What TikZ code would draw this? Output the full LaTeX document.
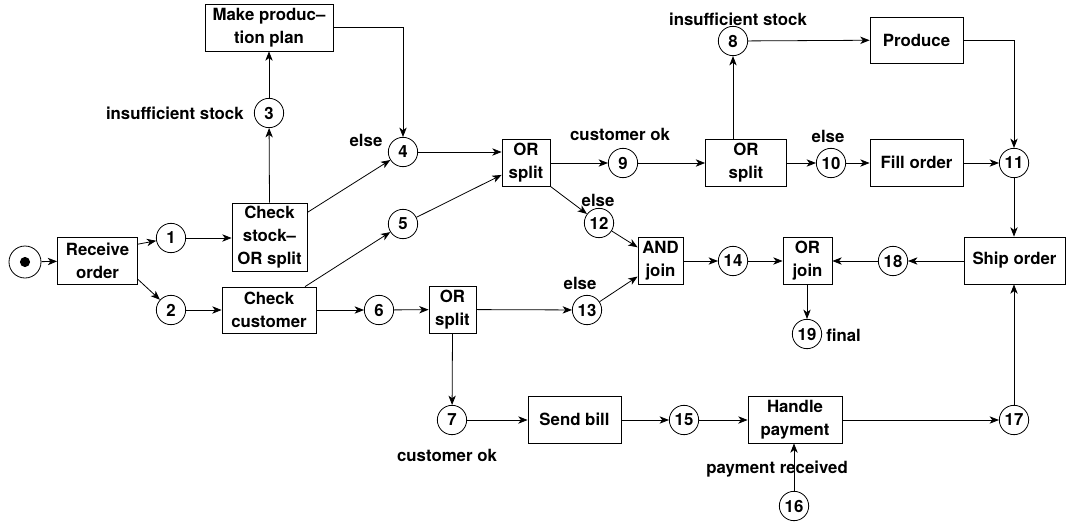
\documentclass[tikz,border=0pt]{standalone}
\usepackage{fontspec}
\setmainfont{TeX Gyre Heros}
\usetikzlibrary{arrows.meta,calc}
\begin{document}
\begin{tikzpicture}[x=0.75pt,y=-0.75pt,
  every node/.style={font=\fontsize{12.6}{17.5}\selectfont\bfseries},
  task/.style={draw,line width=0.6pt,align=center,inner sep=0pt},
  place/.style={draw,circle,line width=0.6pt,minimum size=22pt,inner sep=0pt},
  lbl/.style={inner sep=0pt},
  arr/.style={line width=0.6pt,-{Stealth[length=7pt,width=5.5pt,inset=2pt]}}]
\useasboundingbox (0,0) rectangle (1070,525);

% start place with its token
\node[place,minimum size=24pt] (start) at (25,262) {};
\fill (start) circle (3.8pt);

% transitions
\node[task,minimum width=80*0.75pt,minimum height=47*0.75pt] (recv) at (97.5,260.5) {Receive\\order};
\node[task,minimum width=75*0.75pt,minimum height=68*0.75pt] (chk) at (269.5,237) {Check\\stock--\\OR split};
\node[task,minimum width=94*0.75pt,minimum height=46*0.75pt] (cc) at (269,310) {Check\\customer};
\node[task,minimum width=128*0.75pt,minimum height=47*0.75pt] (mpp) at (269,27.5) {Make produc--\\tion plan};
\node[task,minimum width=48*0.75pt,minimum height=47*0.75pt] (ors1) at (526,162.5) {OR\\split};
\node[task,minimum width=47*0.75pt,minimum height=47*0.75pt] (ors2) at (452.5,309.5) {OR\\split};
\node[task,minimum width=81*0.75pt,minimum height=47*0.75pt] (orr) at (746,162.5) {OR\\split};
\node[task,minimum width=93*0.75pt,minimum height=46*0.75pt] (prod) at (916.5,40) {Produce};
\node[task,minimum width=93*0.75pt,minimum height=47*0.75pt] (fill) at (916.5,162.5) {Fill order};
\node[task,minimum width=45*0.75pt,minimum height=47*0.75pt] (andj) at (660.5,260.5) {AND\\join};
\node[task,minimum width=49*0.75pt,minimum height=47*0.75pt] (orj) at (807.5,260.5) {OR\\join};
\node[task,minimum width=101*0.75pt,minimum height=47*0.75pt] (ship) at (1014.5,260.5) {Ship order};
\node[task,minimum width=93*0.75pt,minimum height=47*0.75pt] (bill) at (574.5,419.5) {Send bill};
\node[task,minimum width=94*0.75pt,minimum height=47*0.75pt] (hp) at (795,419.5) {Handle\\payment};

% places
\node[place] (n1) at (171,238) {1};
\node[place] (n2) at (171,310) {2};
\node[place] (n3) at (269,113) {3};
\node[place] (n4) at (403,152) {4};
\node[place] (n5) at (403,224) {5};
\node[place] (n6) at (379,310) {6};
\node[place] (n7) at (452,420) {7};
\node[place] (n8) at (733,41) {8};
\node[place] (n9) at (623,163) {9};
\node[place] (n10) at (831,163) {10};
\node[place] (n11) at (1014,163) {11};
\node[place] (n12) at (599,223) {12};
\node[place] (n13) at (587,310) {13};
\node[place] (n14) at (733,261) {14};
\node[place] (n15) at (684,420) {15};
\node[place] (n16) at (794,506) {16};
\node[place] (n17) at (1014,420) {17};
\node[place] (n18) at (893,261) {18};
\node[place] (n19) at (807,334) {19};

% labels
\node[lbl,anchor=east] (l3) at (244,113) {insufficient stock};
\node[lbl] (l4) at (366,140) {else};
\node[lbl] (l9) at (620,134) {customer ok};
\node[lbl] (l8) at (738,19) {insufficient stock};
\node[lbl] (l10) at (828,136) {else};
\node[lbl] (l12) at (598,200) {else};
\node[lbl] (l13) at (580,283) {else};
\node[lbl] (l7) at (447,455) {customer ok};
\node[lbl] (l16) at (777,469) {payment received};
\node[lbl,anchor=west] (l19) at (826,335) {final};

% arcs
\draw[arr] (start) -- (recv);
\draw[arr] (recv.22) -- (n1);
\draw[arr] (recv.-25) -- (n2);
\draw[arr] (n1) -- (n1 -| chk.west);
\draw[arr] (n2) -- (cc);
\draw[arr] (chk.north) -- (n3);
\draw[arr] (n3) -- (n3 |- mpp.south);
\draw[arr] (mpp.east) -| (n4);
\draw[arr] (chk.33) -- (n4);
\draw[arr] (cc.33) -- (n5);
\draw[arr] (cc) -- (n6);
\draw[arr] (n4) -- (n4 -| ors1.west);
\draw[arr] (n5) -- (ors1.207);
\draw[arr] (n6) -- (ors2);
\draw[arr] (ors2) -- (n13);
\draw[arr] (ors2.south) -- (n7);
\draw[arr] (ors1.east |- n9) -- (n9);
\draw[arr] (ors1.south east) -- (n12);
\draw[arr] (n9) -- (orr.west |- n9);
\draw[arr] (n8 |- orr.north) -- (n8);
\draw[arr] (orr.east |- n10) -- (n10);
\draw[arr] (n10) -- (fill.west |- n10);
\draw[arr] (n8) -- (prod);
\draw[arr] (prod.east) -| (n11);
\draw[arr] (fill.east |- n11) -- (n11);
\draw[arr] (n11) -- (n11 |- ship.north);
\draw[arr] (n12) -- (andj.150);
\draw[arr] (n13) -- (andj.215);
\draw[arr] (andj.east |- n14) -- (n14);
\draw[arr] (n14) -- (orj.west |- n14);
\draw[arr] (ship.west |- n18) -- (n18);
\draw[arr] (n18) -- (orj.east |- n18);
\draw[arr] (orj.south -| n19) -- (n19);
\draw[arr] (n7) -- (bill.west |- n7);
\draw[arr] (bill.east |- n15) -- (n15);
\draw[arr] (n15) -- (hp.west |- n15);
\draw[arr] (n16) -- (n16 |- hp.south);
\draw[arr] (hp.east |- n17) -- (n17);
\draw[arr] (n17) -- (n17 |- ship.south);
\end{tikzpicture}
\end{document}
